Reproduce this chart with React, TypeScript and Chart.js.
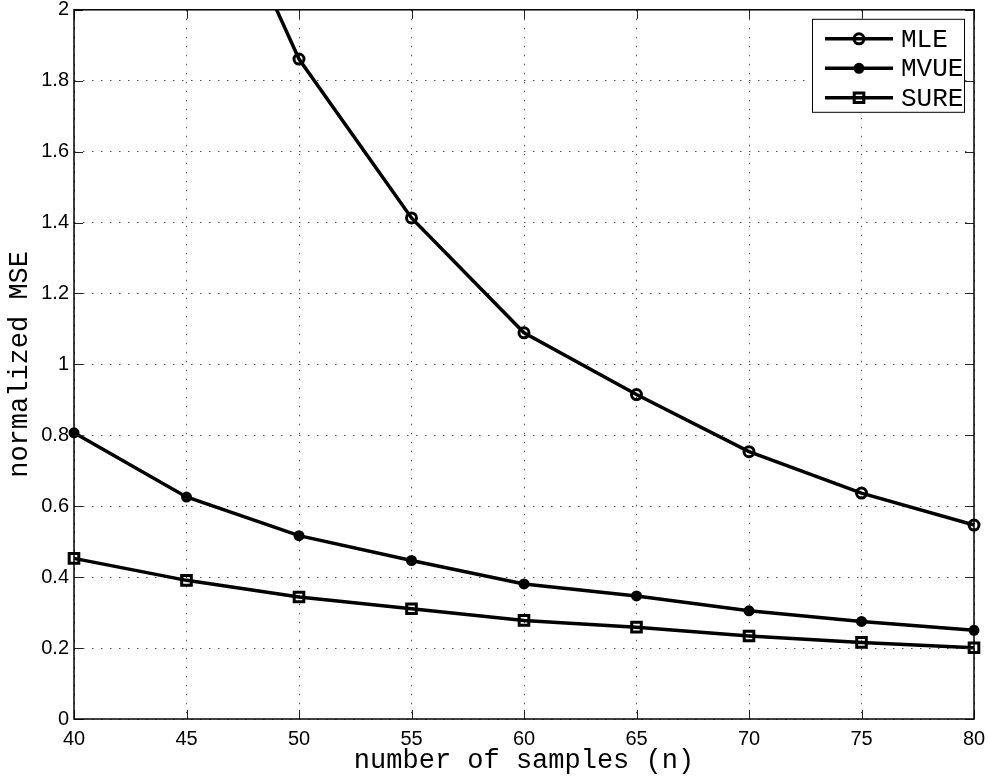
import { useEffect, useRef } from 'react';
import { Chart, registerables } from 'chart.js';

Chart.register(...registerables);

const SAMPLES = [40, 45, 50, 55, 60, 65, 70, 75, 80];
const MLE = [3.6, 2.56, 1.861, 1.413, 1.089, 0.915, 0.754, 0.637, 0.547];
const MVUE = [0.807, 0.626, 0.517, 0.447, 0.381, 0.347, 0.305, 0.275, 0.25];
const SURE = [0.453, 0.391, 0.344, 0.311, 0.278, 0.259, 0.234, 0.216, 0.201];
const X_TICKS = [40, 45, 50, 55, 60, 65, 70, 75, 80];
const Y_TICKS = [0, 0.2, 0.4, 0.6, 0.8, 1, 1.2, 1.4, 1.6, 1.8, 2];
const SERIES_NAMES = ['MLE', 'MVUE', 'SURE'];

const TICK_FONT = { family: '"Liberation Sans", Arial, sans-serif', size: 20 };
const MONO = '"Liberation Mono", "Courier New", monospace';

const framePlugin = {
  id: 'frame',
  afterDatasetsDraw(chart: any) {
    const { ctx, chartArea: a, scales } = chart;
    ctx.save();
    ctx.strokeStyle = '#222';
    ctx.lineWidth = 1;
    ctx.setLineDash([]);
    const tl = 9;
    X_TICKS.forEach((v) => {
      const px = Math.round(scales.x.getPixelForValue(v)) + 0.5;
      ctx.beginPath();
      ctx.moveTo(px, a.bottom);
      ctx.lineTo(px, a.bottom - tl);
      ctx.moveTo(px, a.top);
      ctx.lineTo(px, a.top + tl);
      ctx.stroke();
    });
    Y_TICKS.forEach((v) => {
      const py = Math.round(scales.y.getPixelForValue(v)) + 0.5;
      ctx.beginPath();
      ctx.moveTo(a.left, py);
      ctx.lineTo(a.left + tl, py);
      ctx.moveTo(a.right, py);
      ctx.lineTo(a.right - tl, py);
      ctx.stroke();
    });
    ctx.strokeStyle = '#000';
    ctx.lineWidth = 1.5;
    ctx.strokeRect(a.left, a.top, a.right - a.left, a.bottom - a.top);
    ctx.restore();
  },
};

function drawMarker(ctx: any, style: string, x: number, y: number, r: number, bw: number, filled: boolean) {
  ctx.beginPath();
  if (style === 'rect') {
    const s = Math.SQRT1_2 * r;
    ctx.rect(x - s, y - s, 2 * s, 2 * s);
  } else {
    ctx.arc(x, y, r, 0, Math.PI * 2);
  }
  if (filled) {
    ctx.fillStyle = '#000';
    ctx.fill();
  }
  ctx.lineWidth = bw;
  ctx.strokeStyle = '#000';
  ctx.stroke();
}

const legendPlugin = {
  id: 'boxLegend',
  afterDraw(chart: any) {
    const { ctx, chartArea: a } = chart;
    const w = 152;
    const h = 93;
    const x0 = a.right - 10 - w;
    const y0 = a.top + 9;
    ctx.save();
    ctx.fillStyle = '#fff';
    ctx.fillRect(x0, y0, w, h);
    ctx.strokeStyle = '#000';
    ctx.lineWidth = 1;
    ctx.strokeRect(x0 + 0.5, y0 + 0.5, w, h);
    chart.data.datasets.forEach((ds: any, i: number) => {
      const cy = y0 + 20 + i * 29.5;
      ctx.beginPath();
      ctx.lineWidth = 3.5;
      ctx.strokeStyle = '#000';
      ctx.moveTo(x0 + 13, cy);
      ctx.lineTo(x0 + 81, cy);
      ctx.stroke();
      drawMarker(ctx, ds.pointStyle, x0 + 47, cy, ds.pointRadius, ds.pointBorderWidth, ds.pointBackgroundColor === '#000');
      ctx.fillStyle = '#000';
      ctx.font = `26px ${MONO}`;
      ctx.textBaseline = 'middle';
      ctx.textAlign = 'left';
      ctx.fillText(ds.label, x0 + 89, cy + 1);
    });
    ctx.restore();
  },
};

export default function App() {
  const ref = useRef<HTMLCanvasElement | null>(null);
  useEffect(() => {
    if (!ref.current) return;
    const mk = (vals: number[]) => SAMPLES.map((x, i) => ({ x, y: vals[i] }));
    const base = {
      borderColor: '#000',
      borderWidth: 3.5,
      pointBorderColor: '#000',
      fill: false,
      tension: 0,
      clip: { left: 12, right: 12, top: 0, bottom: 12 },
    };
    const chart = new Chart(ref.current, {
      type: 'line',
      data: {
        datasets: [
          { ...base, label: SERIES_NAMES[0], data: mk(MLE), pointStyle: 'circle', pointRadius: 5, pointBorderWidth: 3, pointBackgroundColor: 'rgba(0,0,0,0)' },
          { ...base, label: SERIES_NAMES[1], data: mk(MVUE), pointStyle: 'circle', pointRadius: 4.5, pointBorderWidth: 2, pointBackgroundColor: '#000' },
          { ...base, label: SERIES_NAMES[2], data: mk(SURE), pointStyle: 'rect', pointRadius: 6.8, pointBorderWidth: 3, pointBackgroundColor: 'rgba(0,0,0,0)' },
        ] as any,
      },
      options: {
        animation: false,
        responsive: true,
        maintainAspectRatio: false,
        devicePixelRatio: 1,
        layout: { padding: { top: 9, right: 15, left: 0, bottom: 0 } },
        plugins: { legend: { display: false }, tooltip: { enabled: false } },
        scales: {
          x: {
            type: 'linear',
            min: 40,
            max: 80,
            afterBuildTicks: (s: any) => { s.ticks = X_TICKS.map((v) => ({ value: v })); },
            afterFit: (s: any) => { s.height = 61; s.paddingLeft = 0; s.paddingRight = 0; },
            ticks: { color: '#000', font: TICK_FONT, padding: 8, maxRotation: 0, autoSkip: false },
            grid: { color: '#555', lineWidth: 1, drawTicks: false },
            border: { display: false, dash: [1.5, 7.5] },
            title: { display: true, text: 'number of samples (n)', color: '#000', font: { family: MONO, size: 27 }, padding: { top: 0, bottom: 3 } },
          },
          y: {
            type: 'linear',
            min: 0,
            max: 2,
            afterBuildTicks: (s: any) => { s.ticks = Y_TICKS.map((v) => ({ value: v })); },
            afterFit: (s: any) => { s.width = 74; s.paddingTop = 0; s.paddingBottom = 0; },
            ticks: {
              color: '#000',
              font: TICK_FONT,
              padding: 5,
              autoSkip: false,
              callback: (v: any) => String(Number(Number(v).toFixed(1))),
            },
            grid: { color: '#555', lineWidth: 1, drawTicks: false },
            border: { display: false, dash: [1.5, 7.5] },
            title: { display: true, text: 'normalized MSE', color: '#000', font: { family: MONO, size: 27 }, padding: { top: 4, bottom: 0 } },
          },
        },
      } as any,
      plugins: [framePlugin, legendPlugin],
    });
    return () => chart.destroy();
  }, []);
  return (
    <div style={{ position: 'fixed', left: 0, top: 0, width: 989, height: 780, background: '#fff' }}>
      <canvas ref={ref} />
    </div>
  );
}
